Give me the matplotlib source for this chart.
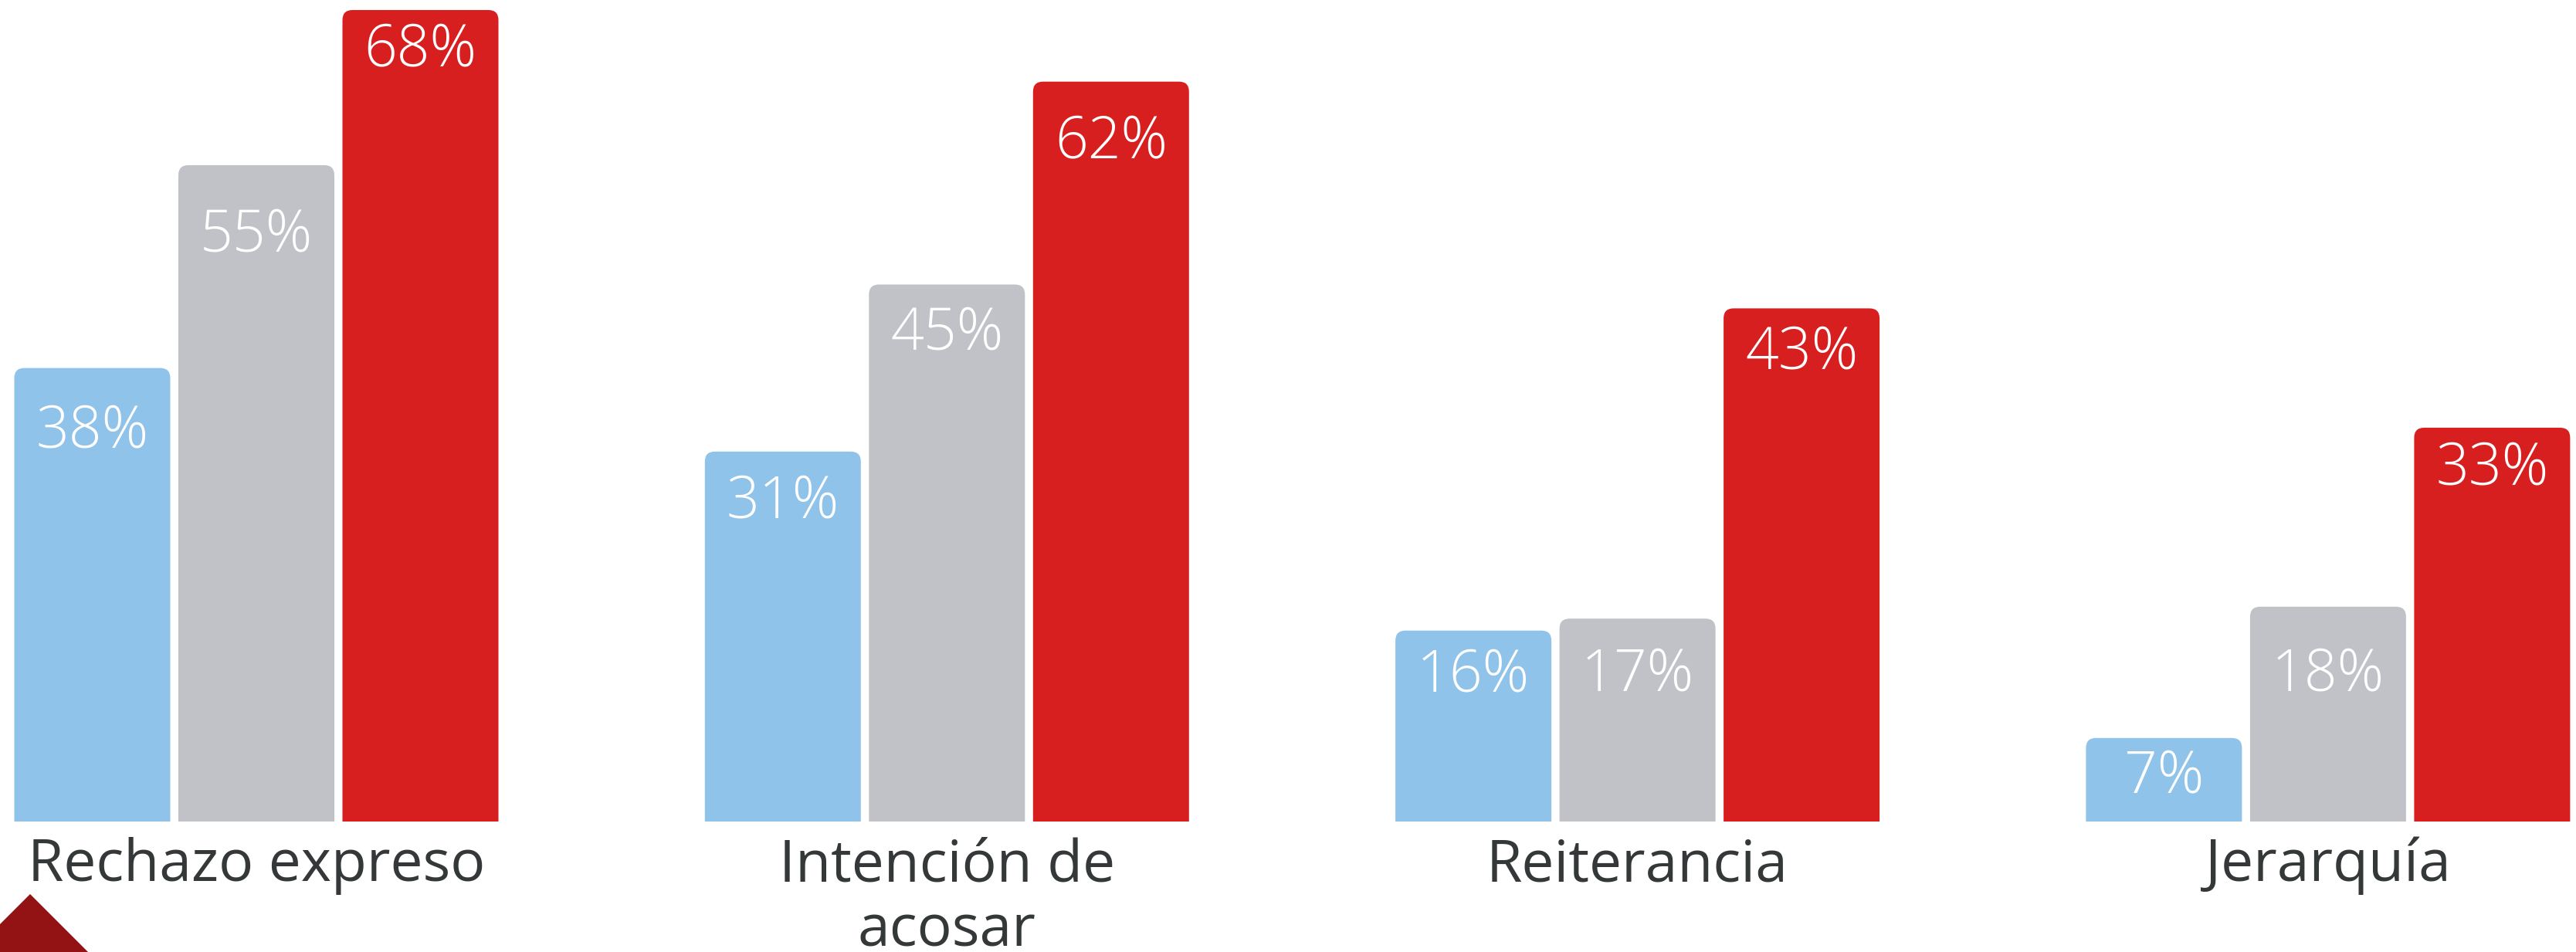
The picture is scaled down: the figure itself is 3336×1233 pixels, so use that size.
import numpy as np
import matplotlib.pyplot as plt
from matplotlib.patches import FancyBboxPatch, Polygon

# datos
categorias = ['Rechazo expreso', 'Intención de\nacosar', 'Reiterancia', 'Jerarquía']
serie_azul = [38, 31, 16, 7]
serie_gris = [55, 45, 17, 18]
serie_roja = [68, 62, 43, 33]

colores = ['#8FC3EA', '#C1C2C7', '#D81F20']
color_texto = '#343839'

# geometria en pixeles de la imagen original
W, H = 3337, 1233
base_px = 1064          # linea base de las barras (desde arriba)
px_por_pct = 15.456
paso_grupo = 894.3
paso_barra = 212.5
ancho_barra = 202
centro0 = 332           # centro de la barra gris del primer grupo
radio = 13

# distancia (px) del centro de la etiqueta al borde superior de cada barra
caida = [[76, 59, 52, 44],
         [85, 58, 67, 82],
         [46, 72, 52, 47]]

fig = plt.figure(figsize=(W / 100, H / 100), dpi=100)
ax = fig.add_axes([0, (H - base_px) / H, 1, base_px / H])
ax.set_xlim(-centro0 / paso_grupo, (W - centro0) / paso_grupo)
ax.set_ylim(0, base_px / px_por_pct)
ax.axis('off')

x = np.arange(len(categorias))
off = paso_barra / paso_grupo
ancho = ancho_barra / paso_grupo
r = radio / paso_grupo
aspecto = (1 / px_por_pct) / (1 / paso_grupo)

fuente = 'Open Sans'

for i, serie in enumerate([serie_azul, serie_gris, serie_roja]):
    barras = ax.bar(x + (i - 1) * off, serie, width=ancho, color=colores[i])
    for j, b in enumerate(barras):
        b.set_visible(False)
        p = FancyBboxPatch((b.get_x(), -3), b.get_width(), b.get_height() + 3,
                           boxstyle='round,pad=0,rounding_size=%f' % r,
                           mutation_aspect=aspecto, fc=colores[i], ec='none')
        ax.add_patch(p)
        y_txt = b.get_height() - (caida[i][j] + 26.5) / px_por_pct
        ax.text(b.get_x() + b.get_width() / 2, y_txt, '%d%%' % serie[j],
                ha='center', va='baseline', color='white', fontsize=54,
                family=fuente, fontweight='light')

# etiquetas de categoria, una linea cada vez (linea base 1141 px, salto 85 px)
for j, cat in enumerate(categorias):
    for k, linea in enumerate(cat.split('\n')):
        y_lin = -(1141 + 85 * k - base_px) / px_por_pct
        ax.text(x[j], y_lin, linea, ha='center', va='baseline',
                color=color_texto, fontsize=54, family=fuente, clip_on=False)

# rombo decorativo abajo a la izquierda
cx, cy, d = 39 / W, (H - 1235) / H, 77
rombo = Polygon([(cx, cy + d / H), (cx + d / W, cy), (cx, cy - d / H), (cx - d / W, cy)],
                closed=True, transform=fig.transFigure, fc='#931214', ec='none')
fig.add_artist(rombo)

fig.savefig('out.png', dpi=100, facecolor='white')
